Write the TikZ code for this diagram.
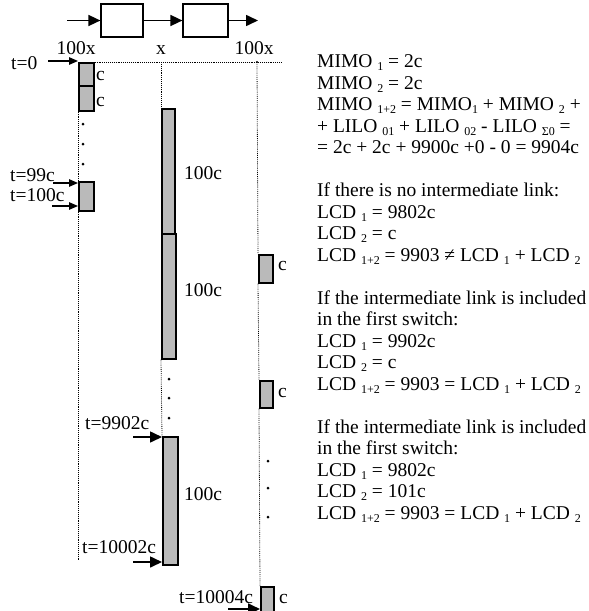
\documentclass[tikz,border=0pt]{standalone}
\usepackage{fontspec}
\setmainfont{Liberation Serif}
\usetikzlibrary{arrows.meta}
\newcommand\sbs[1]{\raisebox{-0.35ex}{\fontsize{12}{12}\selectfont #1}}
\begin{document}
\begin{tikzpicture}[x=1pt,y=-1pt,
  lbl/.style={inner sep=0, font=\fontsize{19.5}{21.5}\selectfont},
  txt/.style={lbl, anchor=base west},
  blk/.style={draw=black, line width=1.7pt, fill=black!27, inner sep=0, anchor=north west},
  sw/.style={draw=black, line width=1.2pt, fill=white, inner sep=0},
  arr/.style={line width=1.6pt, -{Triangle[length=12pt,width=11pt]}},
  sarr/.style={line width=1.2pt, -{Triangle[length=9pt,width=7.5pt]}},
  dotl/.style={line width=0.8pt, dash pattern=on 0.8pt off 1.1pt},
  pt/.style={circle, fill=black, inner sep=0, minimum size=3pt}
]
\useasboundingbox (0,0) rectangle (589,611);

% switches
\node[sw, minimum width=42pt, minimum height=33pt] (s1) at (122,20.5) {};
\node[sw, minimum width=45pt, minimum height=33pt] (s2) at (205.5,20.5) {};
\coordinate (in) at (67,20.5);
\coordinate (out) at (258,20.5);
\draw[arr] (in) -- (s1.west);
\draw[arr] (s1.east) -- (s2.west);
\draw[arr] (s2.east) -- (out);

% column headers
\node[lbl, anchor=base] (h1) at (76,54.5) {100x};
\node[lbl, anchor=base] (h2) at (161,54.5) {x};
\node[lbl, anchor=base] (h3) at (254,54.5) {100x};

% blocks
\node[blk, minimum width=15pt, minimum height=23pt] (c1) at (78,62) {};
\node[blk, minimum width=15pt, minimum height=25pt] (c2) at (78,85) {};
\node[blk, minimum width=15pt, minimum height=29pt] (c3) at (78,181) {};
\node[blk, minimum width=13pt, minimum height=125pt] (m1) at (161,108) {};
\node[blk, minimum width=14pt, minimum height=125pt] (m2) at (161,233) {};
\node[blk, minimum width=15pt, minimum height=128pt] (m3) at (162,436) {};
\node[blk, minimum width=14pt, minimum height=28pt] (r1) at (258,254) {};
\node[blk, minimum width=13pt, minimum height=27pt] (r2) at (259,380) {};
\node[blk, minimum width=13pt, minimum height=30pt] (r3) at (260,586) {};

% dotted guide lines
\coordinate (hend) at (282,62);
\coordinate (mtop) at (161,62);
\coordinate (rtop) at (257,62);
\coordinate (lend) at (78,560);
\draw[dotl] (c1.north east) -- (hend);
\draw[dotl] (c2.south west) -- (c3.north west);
\draw[dotl] (c3.south west) -- (lend);
\draw[dotl] (mtop) -- (m1.north west);
\draw[dotl] (m2.south west) -- (m3.north west);
\draw[dotl] (rtop) -- (r1.north west);
\draw[dotl] (r1.south west) -- (r2.north west);
\draw[dotl] (r2.south west) -- (r3.north west);
\node[pt, minimum size=2.4pt] (rt) at (rtop) {};

% ellipsis dots
\node[pt] (d1) at (83,124) {};
\node[pt] (d2) at (83,144) {};
\node[pt] (d3) at (83,164) {};
\node[pt] (d4) at (169,379) {};
\node[pt] (d5) at (169,398) {};
\node[pt] (d6) at (169,418) {};
\node[pt] (d7) at (268,461) {};
\node[pt] (d8) at (268,488) {};
\node[pt] (d9) at (268,517) {};

% block labels
\node[txt] (lc1) at (96,80) {c};
\node[txt] (lc2) at (96,106) {c};
\node[txt] (lm1) at (184,179) {100c};
\node[txt] (lm2) at (184,296) {100c};
\node[txt] (lm3) at (184,500) {100c};
\node[txt] (lr1) at (278,270) {c};
\node[txt] (lr2) at (278,397) {c};
\node[txt] (lr3) at (279,603) {c};

% time markers
\node[txt] (t0) at (11,69) {t=0};
\node[txt] (t99) at (10,181) {t=99c};
\node[txt] (t100) at (10,201) {t=100c};
\node[txt] (t9902) at (85,429) {t=9902c};
\node[txt] (t10002) at (82,553) {t=10002c};
\node[txt] (t10004) at (179,603) {t=10004c};
\coordinate (a0) at (48,61);
\coordinate (a99) at (53,183);
\coordinate (a100) at (52,206);
\coordinate (a9902) at (133,437);
\coordinate (a10002) at (133,562);
\coordinate (a10004) at (228,609);
\draw[sarr] (a0) -- (a0 -| c1.west);
\draw[sarr] (a99) -- (a99 -| c3.west);
\draw[sarr] (a100) -- (a100 -| c3.west);
\draw[arr] (a9902) -- (a9902 -| m3.west);
\draw[arr] (a10002) -- (a10002 -| m3.west);
\draw[arr] (a10004) -- (a10004 -| r3.west);

% right-hand text
\node[txt] (x0) at (317,67.5) {MIMO \sbs{1} = 2c};
\node[txt] (x1) at (317,89) {MIMO \sbs{2} = 2c};
\node[txt] (x2) at (317,110.5) {MIMO \sbs{1+2} = MIMO\sbs{1} + MIMO \sbs{2} +};
\node[txt] (x3) at (317,132) {+ LILO \sbs{01} + LILO \sbs{02} - LILO \sbs{Σ0} =};
\node[txt] (x4) at (317,153.5) {= 2c + 2c + 9900c +0 - 0 = 9904c};
\node[txt] (x6) at (317,196.5) {If there is no intermediate link:};
\node[txt] (x7) at (317,218) {LCD \sbs{1} = 9802c};
\node[txt] (x8) at (317,239.5) {LCD \sbs{2} = c};
\node[txt] (x9) at (317,261) {LCD \sbs{1+2} = 9903 ≠ LCD \sbs{1} + LCD \sbs{2}};
\node[txt] (x11) at (317,304) {If the intermediate link is included};
\node[txt] (x12) at (317,325.5) {in the first switch:};
\node[txt] (x13) at (317,347) {LCD \sbs{1} = 9902c};
\node[txt] (x14) at (317,368.5) {LCD \sbs{2} = c};
\node[txt] (x15) at (317,390) {LCD \sbs{1+2} = 9903 = LCD \sbs{1} + LCD \sbs{2}};
\node[txt] (x17) at (317,433) {If the intermediate link is included};
\node[txt] (x18) at (317,454.5) {in the first switch:};
\node[txt] (x19) at (317,476) {LCD \sbs{1} = 9802c};
\node[txt] (x20) at (317,497.5) {LCD \sbs{2} = 101c};
\node[txt] (x21) at (317,519) {LCD \sbs{1+2} = 9903 = LCD \sbs{1} + LCD \sbs{2}};
\end{tikzpicture}
\end{document}
